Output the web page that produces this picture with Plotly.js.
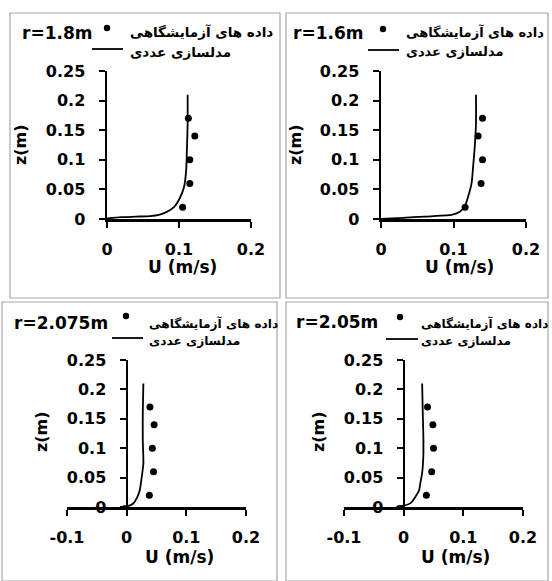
<!DOCTYPE html>
<html>
<head>
<meta charset="utf-8">
<script src="https://cdn.plot.ly/plotly-3.0.1.min.js"></script>
<style>html,body{margin:0;padding:0;background:#fff;}#chart{width:552px;height:581px;}</style>
</head>
<body>
<div id="chart"></div>
<script>
// ---------- data ----------
const panelTitles = ['r=1.8m', 'r=1.6m', 'r=2.075m', 'r=2.05m'];
const legendExp = 'داده های آزمایشگاهی';
const legendNum = 'مدلسازی عددی';
const xTitle = 'U (m/s)';
const yTitle = 'z(m)';

const zTickVals = [0, 0.05, 0.1, 0.15, 0.2, 0.25];
const zTickText = ['0', '0.05', '0.1', '0.15', '0.2', '0.25'];
const uTickValsTop = [0, 0.1, 0.2];
const uTickTextTop = ['0', '0.1', '0.2'];
const uTickValsBottom = [-0.1, 0, 0.1, 0.2];
const uTickTextBottom = ['-0.1', '0', '0.1', '0.2'];

// experimental points (same heights in each panel)
const zExp = [0.02, 0.06, 0.1, 0.14, 0.17];
const uExp18 = [0.105, 0.115, 0.115, 0.122, 0.113];
const uExp16 = [0.116, 0.138, 0.14, 0.134, 0.14];
const uExp2075 = [0.038, 0.045, 0.043, 0.046, 0.039];
const uExp205 = [0.038, 0.047, 0.05, 0.049, 0.04];

// numerical model profiles
const zNum18 = [0.001, 0.003, 0.004, 0.005, 0.007, 0.012, 0.02, 0.035, 0.054, 0.083, 0.117, 0.16, 0.21];
const uNum18 = [0, 0.02, 0.04, 0.06, 0.072, 0.083, 0.093, 0.101, 0.107, 0.11, 0.111, 0.112, 0.112];
const zNum16 = [0.0, 0.002, 0.004, 0.006, 0.007, 0.012, 0.02, 0.037, 0.061, 0.088, 0.117, 0.16, 0.21];
const uNum16 = [0, 0.03, 0.06, 0.09, 0.097, 0.108, 0.115, 0.12, 0.125, 0.127, 0.129, 0.131, 0.131];
const zNum2075 = [0, 0.001, 0.002, 0.006, 0.015, 0.029, 0.049, 0.074, 0.114, 0.16, 0.21];
const uNum2075 = [0, -0.006, 0.003, 0.011, 0.017, 0.022, 0.025, 0.028, 0.027, 0.027, 0.028];
const zNum205 = [0, 0.001, 0.003, 0.007, 0.018, 0.029, 0.041, 0.058, 0.088, 0.12, 0.16, 0.21];
const uNum205 = [0, -0.011, 0.003, 0.012, 0.02, 0.026, 0.028, 0.031, 0.033, 0.033, 0.032, 0.031];

// ---------- layout helpers ----------
const W = 552, H = 581;
const px = x => x / W;
const py = y => 1 - y / H;
const FONT = 'DejaVu Sans';

const panels = [
  {sx: '', uExp: uExp18, zN: zNum18, uN: uNum18, x0: 107, x1: 251, y0: 219, y1: 71, range: [0, 0.2], tv: uTickValsTop, tt: uTickTextTop, yPos: null,
   border: [10, 13, 280, 298], title: [20, 33], dot: [107, 28], t1: [128, 32], ln: [92, 123, 49], t2: [128, 52], xt: [183, 267], yt: [20, 145], lf: 13.5},
  {sx: '2', uExp: uExp16, zN: zNum16, uN: uNum16, x0: 381, x1: 526, y0: 219, y1: 71, range: [0, 0.2], tv: uTickValsTop, tt: uTickTextTop, yPos: null,
   border: [286, 13, 548, 298], title: [291, 33], dot: [383, 29], t1: [404, 32], ln: [368, 399, 50], t2: [404, 52], xt: [459, 267], yt: [295, 145], lf: 13},
  {sx: '3', uExp: uExp2075, zN: zNum2075, uN: uNum2075, x0: 67, x1: 246, y0: 507, y1: 360, range: [-0.1, 0.2], tv: uTickValsBottom, tt: uTickTextBottom, yPos: 126.5,
   border: [2, 302, 277, 581], title: [12, 323], dot: [126, 316], t1: [147, 323], ln: [112, 143, 338], t2: [147, 341], xt: [179, 557], yt: [41, 432], lf: 12.2},
  {sx: '4', uExp: uExp205, zN: zNum205, uN: uNum205, x0: 344, x1: 523, y0: 507, y1: 360, range: [-0.1, 0.2], tv: uTickValsBottom, tt: uTickTextBottom, yPos: 403.5,
   border: [286, 302, 548, 581], title: [294, 322], dot: [400, 317], t1: [419, 323], ln: [386, 418, 339], t2: [419, 341], xt: [455, 557], yt: [318, 432], lf: 12}
];

const data = [];
const layout = {
  width: W, height: H,
  margin: {l: 0, r: 0, t: 0, b: 0},
  paper_bgcolor: '#ffffff', plot_bgcolor: 'rgba(0,0,0,0)',
  font: {family: FONT, color: '#000'},
  showlegend: false,
  shapes: [], annotations: []
};

panels.forEach((p, i) => {
  const xa = 'x' + p.sx, ya = 'y' + p.sx;
  data.push({
    x: p.uExp, y: zExp, xaxis: xa, yaxis: ya, mode: 'markers', type: 'scatter',
    name: legendExp, marker: {color: '#000', size: 7}, cliponaxis: false
  });
  data.push({
    x: p.uN, y: p.zN, xaxis: xa, yaxis: ya, mode: 'lines', type: 'scatter',
    name: legendNum, line: {color: '#000', width: 1.8, shape: 'spline', smoothing: 0.6}, cliponaxis: false
  });
  const axCommon = {
    showgrid: false, zeroline: false, showline: true, linecolor: '#000', linewidth: 2.5,
    ticks: 'outside', ticklen: 6, tickwidth: 2, tickcolor: '#000',
    tickfont: {family: FONT, size: 16, weight: 'bold', color: '#000'}, fixedrange: true
  };
  layout['xaxis' + p.sx] = Object.assign({}, axCommon, {
    domain: [px(p.x0), px(p.x1)], range: p.range, anchor: ya,
    tickmode: 'array', tickvals: p.tv, ticktext: p.tt, ticklabelstandoff: 8
  });
  const yax = Object.assign({}, axCommon, {
    domain: [py(p.y0), py(p.y1)], range: [0, 0.25],
    tickmode: 'array', tickvals: zTickVals, ticktext: zTickText, ticklabelstandoff: 10
  });
  if (p.yPos !== null) { yax.anchor = 'free'; yax.position = px(p.yPos); } else { yax.anchor = xa; }
  layout['yaxis' + p.sx] = yax;

  // panel frame
  layout.shapes.push({type: 'rect', xref: 'paper', yref: 'paper',
    x0: px(p.border[0]), x1: px(p.border[2]), y0: py(p.border[3]), y1: py(p.border[1]),
    line: {color: '#a6a6a6', width: 1.2}, fillcolor: 'rgba(0,0,0,0)', layer: 'below'});

  // legend keys
  const r = 3.2;
  layout.shapes.push({type: 'circle', xref: 'paper', yref: 'paper',
    x0: px(p.dot[0] - r), x1: px(p.dot[0] + r), y0: py(p.dot[1] + r), y1: py(p.dot[1] - r),
    line: {color: '#000', width: 0}, fillcolor: '#000'});
  layout.shapes.push({type: 'line', xref: 'paper', yref: 'paper',
    x0: px(p.ln[0]), x1: px(p.ln[1]), y0: py(p.ln[2]), y1: py(p.ln[2]),
    line: {color: '#000', width: 1.8}});
  const legFont = {family: FONT, size: p.lf, weight: 'bold', color: '#000'};
  layout.annotations.push({text: legendExp, xref: 'paper', yref: 'paper', x: px(p.t1[0]), y: py(p.t1[1]),
    xanchor: 'left', yanchor: 'middle', showarrow: false, font: legFont});
  layout.annotations.push({text: legendNum, xref: 'paper', yref: 'paper', x: px(p.t2[0]), y: py(p.t2[1]),
    xanchor: 'left', yanchor: 'middle', showarrow: false, font: legFont});

  layout.annotations.push({text: panelTitles[i], xref: 'paper', yref: 'paper', x: px(p.title[0]), y: py(p.title[1]),
    xanchor: 'left', yanchor: 'middle', showarrow: false, font: {family: FONT, size: 17, weight: 'bold', color: '#000'}});
  layout.annotations.push({text: xTitle, xref: 'paper', yref: 'paper', x: px(p.xt[0]), y: py(p.xt[1]),
    xanchor: 'center', yanchor: 'middle', showarrow: false, font: {family: FONT, size: 17, weight: 'bold', color: '#000'}});
  layout.annotations.push({text: yTitle, xref: 'paper', yref: 'paper', x: px(p.yt[0]), y: py(p.yt[1]), textangle: -90,
    xanchor: 'center', yanchor: 'middle', showarrow: false, font: {family: FONT, size: 16, weight: 'bold', color: '#000'}});
});

Plotly.newPlot('chart', data, layout, {staticPlot: true, displayModeBar: false});
</script>
</body>
</html>
